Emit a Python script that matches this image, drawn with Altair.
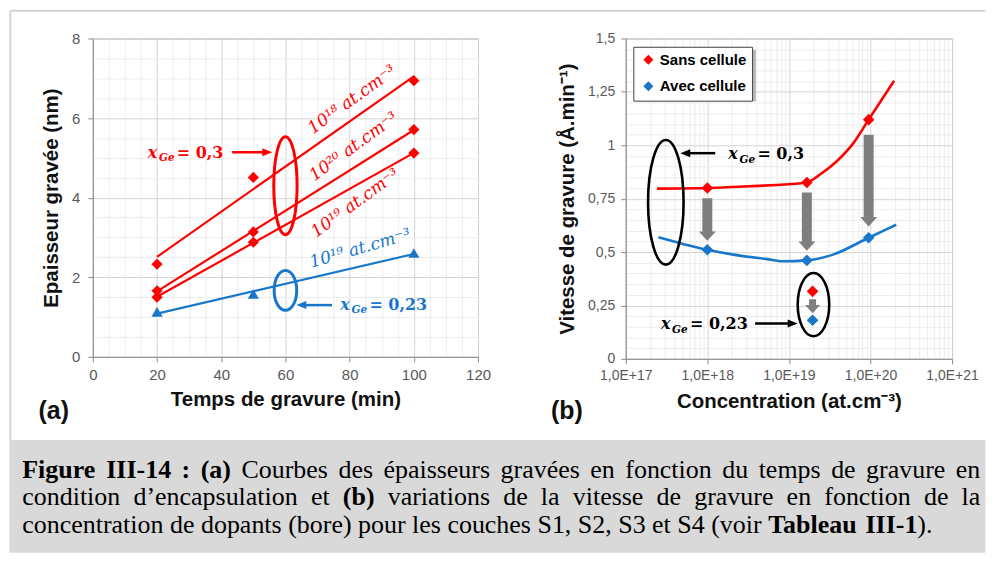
import math
import altair as alt
import pandas as pd

RED = "#ff0000"
BLUE = "#1877c9"
GRAY = "#7f7f7f"
SANS = "Liberation Sans"
MATH = "DejaVu Serif"
TIMES = "Liberation Serif"

# page position of the two plot areas (used only for the caption / frame pixels)
A_LEFT, A_TOP, A_W, A_H = 91.7, 36.7, 386, 319
B_LEFT, B_W, B_H = 625.7, 327, 321
RIGHT_EDGE = 986

# ---------------- panel (a) values ----------------
temps = [20, 50, 100]
ep_18 = [2.33, 4.51, 6.94]
ep_20 = [1.66, 3.14, 5.71]
ep_19 = [1.50, 2.88, 5.12]
ep_19_023 = [1.13, 1.58, 2.61]
series_a = ["1E18 x=0,3", "1E20 x=0,3", "1E19 x=0,3", "1E19 x=0,23"]

lab_a_text = ["10¹⁸ at.cm⁻³", "10²⁰ at.cm⁻³", "10¹⁹ at.cm⁻³", "10¹⁹ at.cm⁻³"]
lab_a_x = [80.8, 81.3, 81.8, 83.3]
lab_a_y = [6.46, 5.28, 3.86, 2.72]

ell_a_x = [60, 60]
ell_a_y = [4.30, 1.67]
arr_a_from = [43.4, 74.5]
arr_a_to = [55.9, 63.4]
arr_a_y = [5.14, 1.30]
xge_a_x = [17.1, 77.1]
xge_a_y = [5.13, 1.30]
xge_a_suffix = ["= 0,3", "= 0,23"]

# ---------------- panel (b) values ----------------
conc = [1e18, 1.66e19, 9.5e19]
v_sans = [0.800, 0.826, 1.120]
v_avec = [0.511, 0.461, 0.567]
conc_023 = [1.95e19]
v_sans_023 = [0.316]
v_avec_023 = [0.181]

curve_sans_x = [2.42e17, 1e18, 3.31e18, 1.66e19, 2.38e19, 3.83e19, 6.17e19, 9.5e19, 1.41e20, 1.95e20]
curve_sans_y = [0.797, 0.800, 0.808, 0.826, 0.862, 0.924, 1.010, 1.120, 1.220, 1.302]
curve_avec_x = [2.51e17, 5.13e17, 1e18, 2.09e18, 5.37e18, 8.5e18, 1.66e19, 3.47e19, 9.5e19, 2.07e20]
curve_avec_y = [0.569, 0.537, 0.511, 0.488, 0.467, 0.457, 0.461, 0.488, 0.567, 0.628]

garr_x = [1e18, 1.66e19, 9.5e19]
garr_top = [0.752, 0.779, 1.049]
garr_tip = [0.553, 0.506, 0.620]
gsmall_x = [1.95e19]
gsmall_top = [0.279]
gsmall_tip = [0.213]

ell_b_x = [3.1e17, 2.0e19]
ell_b_y = [0.733, 0.254]
arrL_b_from, arrL_b_to, arrL_b_y = [1.25e18], [4.66e17], [0.963]
arrR_b_from, arrR_b_to, arrR_b_y = [3.85e18], [1.28e19], [0.165]
xge_b_x = [1.81e18, 2.7e17]
xge_b_y = [0.957, 0.161]
xge_b_suffix = ["= 0,3", "= 0,23"]

caption = [
    ([("Figure III-14 :", 1), (" ", 0), ("(a)", 1),
      (" Courbes des épaisseurs gravées en fonction du temps de gravure en", 0)], True),
    ([("condition d’encapsulation et ", 0), ("(b)", 1),
      (" variations de la vitesse de gravure en fonction de la", 0)], True),
    ([("concentration de dopants (bore) pour les couches S1, S2, S3 et S4 (voir ", 0),
      ("Tableau III-1", 1), (").", 0)], False),
]

# ---------------- helpers ----------------
def cond(test, a, b):
    return {"condition": {"test": test, "value": a}, "value": b}

AXC = dict(labelFont=SANS, titleFont=SANS, labelColor="#595959", titleColor="#111111",
           titleFontWeight="bold", titleFontSize=20.5, domainColor="#8c8c8c",
           tickColor="#8c8c8c", labelOverlap=False, labelFlush=False, grid=True, gridWidth=1)

MAJ_AX = "datum.value % 20 === 0"
MAJ_AY = "datum.value % 2 === 0"
AX_AX = alt.Axis(values=list(range(0, 121, 5)), labelExpr=f"{MAJ_AX} ? format(datum.value, 'd') : ''",
                 gridColor=cond(MAJ_AX, "#d4d4d4", "#ededed"), tickOpacity=cond(MAJ_AX, 1, 0),
                 tickSize=5, labelPadding=6, labelFontSize=15, titlePadding=7, **AXC)
AX_AY = alt.Axis(values=[i * 0.5 for i in range(17)], labelExpr=f"{MAJ_AY} ? format(datum.value, 'd') : ''",
                 gridColor=cond(MAJ_AY, "#d4d4d4", "#ededed"), tickOpacity=cond(MAJ_AY, 1, 0),
                 tickSize=5, labelPadding=8, labelFontSize=15, titlePadding=10, **AXC)

LGX = "(log(datum.value)/LN10)"
MAJ_BX = f"abs({LGX} - round({LGX})) < 0.001"
MAJ_BY = "abs(datum.value*4 - round(datum.value*4)) < 0.001"
bx_vals = [float(k) * 10.0 ** e for e in range(17, 21) for k in range(1, 10)] + [1e21]
AX_BX = alt.Axis(values=bx_vals, labelExpr=f"{MAJ_BX} ? '1,0E+' + round({LGX}) : ''",
                 gridColor=cond(MAJ_BX, "#d4d4d4", "#ededed"), tickOpacity=cond(MAJ_BX, 1, 0),
                 tickSize=5, labelPadding=5, labelFontSize=14, titlePadding=9, **AXC)
AX_BY = alt.Axis(values=[round(i * 0.05, 2) for i in range(31)],
                 labelExpr=f"{MAJ_BY} ? replace(format(datum.value, '~g'), '.', ',') : ''",
                 gridColor=cond(MAJ_BY, "#d4d4d4", "#ededed"), tickOpacity=cond(MAJ_BY, 1, 0),
                 tickSize=5, labelPadding=6, labelFontSize=14, titlePadding=10, **AXC)

XA = alt.X("x:Q", scale=alt.Scale(domain=[0, 120], nice=False), axis=AX_AX, title="Temps de gravure (min)")
YA = alt.Y("y:Q", scale=alt.Scale(domain=[0, 8], nice=False), axis=AX_AY, title="Epaisseur gravée (nm)")
XB = alt.X("x:Q", scale=alt.Scale(type="log", domain=[1e17, 1e21], nice=False), axis=AX_BX,
           title="Concentration (at.cm⁻³)")
YB = alt.Y("y:Q", scale=alt.Scale(domain=[0, 1.5], nice=False), axis=AX_BY,
           title="Vitesse de gravure (Å.min⁻¹)")

RIGHT = "M-1,-0.8L1,0L-1,0.8Z"
LEFT = "M1,-0.8L-1,0L1,0.8Z"
DOWN = "M-1,-0.55L1,-0.55L0,0.55Z"


def ellipse(df, X, Y, rx, ry, color, sw=3):
    a = rx / ry
    path = f"M0,-1 A{a:.4f},1 0 1 1 0,1 A{a:.4f},1 0 1 1 0,-1 Z"
    return alt.Chart(df).mark_point(shape=path, size=(2 * ry) ** 2, filled=False, color=color,
                                    strokeWidth=sw, opacity=1).encode(x=X, y=Y)


def harrow(df, X, Y, color, direction, sw=2.5, head=100):
    half = math.sqrt(head) / 2
    s = 1 if direction == "right" else -1
    shaft = alt.Chart(df).mark_rule(color=color, strokeWidth=sw, x2Offset=-s * (2 * half - 2)).encode(
        x=X, x2=alt.X2("x2:Q"), y=Y)
    tip = alt.Chart(df).transform_calculate(x="datum.x2").mark_point(
        shape=RIGHT if s > 0 else LEFT, size=head, filled=True, color=color, opacity=1,
        xOffset=-s * half).encode(x=X, y=Y)
    return [shaft, tip]


def varrow(df, X, Y, color, sw, headw):
    size = headw ** 2
    h = 0.55 * headw / 2
    shaft = alt.Chart(df).mark_rule(color=color, strokeWidth=sw, strokeCap="butt", y2Offset=-(2 * h - 1)).encode(
        x=X, y=Y, y2=alt.Y2("y2:Q"))
    tip = alt.Chart(df).transform_calculate(y="datum.y2").mark_point(
        shape=DOWN, size=size, filled=True, color=color, opacity=1, yOffset=-h).encode(x=X, y=Y)
    return [shaft, tip]


def xge(df, X, Y, color, fs=16):
    b = alt.Chart(df).encode(x=X, y=Y)
    t1 = b.mark_text(text="x", font=MATH, fontStyle="italic", fontWeight="bold", fontSize=fs,
                     color=color, align="left", baseline="middle")
    t2 = b.mark_text(text="Ge", font=MATH, fontStyle="italic", fontWeight="bold", fontSize=fs * 0.66,
                     color=color, align="left", baseline="middle", dx=fs * 0.7, dy=fs * 0.32)
    t3 = b.mark_text(font=MATH, fontWeight="bold", fontSize=fs, color=color, align="left",
                     baseline="middle", dx=fs * 1.82).encode(text="suffix:N")
    return [t1, t2, t3]


dummy = pd.DataFrame({"k": [0]})


def pix_text(txt, px, py, size, **kw):
    return alt.Chart(dummy).mark_text(text=txt, fontSize=size, **kw).encode(
        x=alt.value(px), y=alt.value(py))


# ---------------- caption layout (Times metrics) ----------------
TR = {' ': 250, '(': 333, ')': 333, ',': 250, '-': 333, '.': 250, ':': 278, '’': 333, 'é': 444,
      'A': 722, 'B': 667, 'C': 667, 'D': 722, 'E': 611, 'F': 556, 'G': 722, 'H': 722, 'I': 333,
      'S': 556, 'T': 611,
      'a': 444, 'b': 500, 'c': 444, 'd': 500, 'e': 444, 'f': 333, 'g': 500, 'h': 500, 'i': 278,
      'j': 278, 'k': 500, 'l': 278, 'm': 778, 'n': 500, 'o': 500, 'p': 500, 'q': 500, 'r': 333,
      's': 389, 't': 278, 'u': 500, 'v': 500, 'w': 722, 'x': 500, 'y': 500, 'z': 444}
TB = {' ': 250, '(': 333, ')': 333, ',': 250, '-': 333, '.': 250, ':': 333,
      'F': 611, 'I': 389, 'T': 667, 'a': 500, 'b': 556, 'e': 444, 'g': 500, 'i': 278, 'l': 278,
      'r': 444, 'u': 556}
CAP_FS = 26
CAP_X0, CAP_X1 = 21, 981
CAP_BASE = [477, 504.5, 532]


def cw(ch, bold):
    t = TB if bold else TR
    return t.get(ch, 500) * CAP_FS / 1000.0


cap_layers = []
for (segs, justify), base in zip(caption, CAP_BASE):
    chars = [(c, b) for txt, b in segs for c in txt]
    words, cur = [], []
    for c, b in chars:
        if c == " ":
            if cur:
                words.append(cur)
            cur = []
        else:
            cur.append((c, b))
    if cur:
        words.append(cur)
    widths = [sum(cw(c, b) for c, b in w) for w in words]
    gap = (CAP_X1 - CAP_X0 - sum(widths)) / (len(words) - 1) if justify else cw(" ", 0)
    x = CAP_X0
    for w, wd in zip(words, widths):
        pieces = []
        seg_t, seg_b = "", w[0][1]
        for c, b in w:
            if b != seg_b:
                pieces.append((seg_t, seg_b))
                seg_t, seg_b = "", b
            seg_t += c
        pieces.append((seg_t, seg_b))
        sx = x
        for t, b in pieces:
            kw = dict(font=TIMES, align="left", baseline="alphabetic", color="#000000")
            if b:
                kw["fontWeight"] = "bold"
            cap_layers.append(pix_text(t, sx - A_LEFT, base - A_TOP, CAP_FS, **kw))
            sx += sum(cw(c, b) for c in t)
        x += wd + gap

# ---------------- panel (a) ----------------
df_a = pd.DataFrame({
    "x": temps * 4,
    "y": ep_18 + ep_20 + ep_19 + ep_19_023,
    "serie": [s for s in series_a for _ in temps],
})
col_a = alt.Color("serie:N", scale=alt.Scale(domain=series_a, range=[RED, RED, RED, BLUE]), legend=None)
shp_a = alt.Shape("serie:N", scale=alt.Scale(domain=series_a,
                                             range=["diamond", "diamond", "diamond", "triangle-up"]),
                  legend=None)

reg_a = alt.Chart(df_a).transform_regression("x", "y", groupby=["serie"], extent=[20, 100]).mark_line(
    strokeWidth=2.2).encode(x=XA, y=YA, color=col_a, detail="serie:N")
pts_a = alt.Chart(df_a).mark_point(filled=True, size=125, opacity=1).encode(x=XA, y=YA, color=col_a,
                                                                           shape=shp_a)
lab_df = pd.DataFrame({"x": lab_a_x, "y": lab_a_y, "t": lab_a_text})
lab_red = alt.Chart(lab_df.iloc[:3]).mark_text(angle=324, font=MATH, fontStyle="italic", fontSize=17,
                                               color=RED).encode(x=XA, y=YA, text="t:N")
lab_blue = alt.Chart(lab_df.iloc[3:]).mark_text(angle=344, font=MATH, fontStyle="italic", fontSize=17,
                                                color=BLUE).encode(x=XA, y=YA, text="t:N")

ell_ra = ellipse(pd.DataFrame({"x": ell_a_x[:1], "y": ell_a_y[:1]}), XA, YA, 11.7, 49.2, RED)
ell_ba = ellipse(pd.DataFrame({"x": ell_a_x[1:], "y": ell_a_y[1:]}), XA, YA, 11.3, 20.0, BLUE)
arr_ra = harrow(pd.DataFrame({"x": arr_a_from[:1], "x2": arr_a_to[:1], "y": arr_a_y[:1]}), XA, YA, RED, "right")
arr_ba = harrow(pd.DataFrame({"x": arr_a_from[1:], "x2": arr_a_to[1:], "y": arr_a_y[1:]}), XA, YA, BLUE, "left")
xge_ra = xge(pd.DataFrame({"x": xge_a_x[:1], "y": xge_a_y[:1], "suffix": xge_a_suffix[:1]}), XA, YA, RED)
xge_ba = xge(pd.DataFrame({"x": xge_a_x[1:], "y": xge_a_y[1:], "suffix": xge_a_suffix[1:]}), XA, YA, BLUE)

frame_top = alt.Chart(dummy).mark_rule(color="#d3d3d3", strokeWidth=2).encode(
    x=alt.value(9 - A_LEFT), x2=alt.value(RIGHT_EDGE - A_LEFT), y=alt.value(9 - A_TOP))
frame_left = alt.Chart(dummy).mark_rule(color="#d3d3d3", strokeWidth=2).encode(
    x=alt.value(9 - A_LEFT), y=alt.value(9 - A_TOP), y2=alt.value(439 - A_TOP))
cap_rect = alt.Chart(dummy).mark_rect(color="#d9d9d9").encode(
    x=alt.value(8 - A_LEFT), x2=alt.value(RIGHT_EDGE - A_LEFT), y=alt.value(439 - A_TOP),
    y2=alt.value(552 - A_TOP))
lbl_a = pix_text("(a)", 52.5 - A_LEFT, 410 - A_TOP, 25, font=SANS, fontWeight="bold", color="#111111",
                 align="center", baseline="middle")

panel_a = alt.layer(
    reg_a, pts_a, lab_red, lab_blue, ell_ra, ell_ba, *arr_ra, *arr_ba, *xge_ra, *xge_ba,
    frame_top, frame_left, cap_rect, *cap_layers, lbl_a
).properties(width=A_W, height=A_H)

# ---------------- panel (b) ----------------
curve_s = alt.Chart(pd.DataFrame({"x": curve_sans_x, "y": curve_sans_y})).mark_line(
    color=RED, strokeWidth=2.6, interpolate="monotone").encode(x=XB, y=YB)
curve_a = alt.Chart(pd.DataFrame({"x": curve_avec_x, "y": curve_avec_y})).mark_line(
    color=BLUE, strokeWidth=2.6, interpolate="monotone").encode(x=XB, y=YB)
garr = varrow(pd.DataFrame({"x": garr_x, "y": garr_top, "y2": garr_tip}), XB, YB, GRAY, 10, 17)
gsm = varrow(pd.DataFrame({"x": gsmall_x, "y": gsmall_top, "y2": gsmall_tip}), XB, YB, GRAY, 7, 15)

series_b = ["Sans cellule", "Avec cellule"]
df_b = pd.DataFrame({
    "x": conc + conc + conc_023 + conc_023,
    "y": v_sans + v_avec + v_sans_023 + v_avec_023,
    "serie": ["Sans cellule"] * 3 + ["Avec cellule"] * 3 + ["Sans cellule", "Avec cellule"],
})
pts_b = alt.Chart(df_b).mark_point(filled=True, size=135, opacity=1, shape="diamond").encode(
    x=XB, y=YB,
    color=alt.Color("serie:N", scale=alt.Scale(domain=series_b, range=[RED, BLUE]),
                    legend=alt.Legend(title=None, orient="none", legendX=7.6, legendY=8.3,
                                      direction="vertical", symbolType="diamond", symbolSize=100,
                                      symbolStrokeWidth=0, labelFont=SANS, labelFontSize=15,
                                      labelFontWeight="bold", labelColor="#000000",
                                      fillColor="#ffffff", strokeColor="#404040", padding=5.6,
                                      rowPadding=10.4, labelOffset=4, symbolOffset=2)))
shadow = alt.Chart(dummy).mark_rect(color="#8c8c8c", opacity=0.6).encode(
    x=alt.value(11), x2=alt.value(130.5), y=alt.value(11.5), y2=alt.value(63))
ell_b1 = ellipse(pd.DataFrame({"x": ell_b_x[:1], "y": ell_b_y[:1]}), XB, YB, 17.8, 62.5, "#000000", 2.6)
ell_b2 = ellipse(pd.DataFrame({"x": ell_b_x[1:], "y": ell_b_y[1:]}), XB, YB, 15.8, 31.7, "#000000", 2.6)
arr_b1 = harrow(pd.DataFrame({"x": arrL_b_from, "x2": arrL_b_to, "y": arrL_b_y}), XB, YB, "#000000", "left")
arr_b2 = harrow(pd.DataFrame({"x": arrR_b_from, "x2": arrR_b_to, "y": arrR_b_y}), XB, YB, "#000000", "right")
xge_b = xge(pd.DataFrame({"x": xge_b_x, "y": xge_b_y, "suffix": xge_b_suffix}), XB, YB, "#000000")
lbl_b = pix_text("(b)", 566.7 - B_LEFT, 410 - A_TOP, 25, font=SANS, fontWeight="bold", color="#111111",
                 align="center", baseline="middle")

panel_b = alt.layer(
    curve_s, curve_a, *garr, *gsm, shadow, pts_b, ell_b1, ell_b2, *arr_b1, *arr_b2, *xge_b, lbl_b
).properties(width=B_W, height=B_H)

chart = alt.hconcat(panel_a, panel_b, spacing=148, bounds="flush", padding=0).resolve_scale(
    color="independent", shape="independent").resolve_legend(
    color="independent", shape="independent").configure_view(stroke="#a0a0a0", strokeWidth=1)

chart.save("out.html", embed_options={"renderer": "svg", "actions": False})
